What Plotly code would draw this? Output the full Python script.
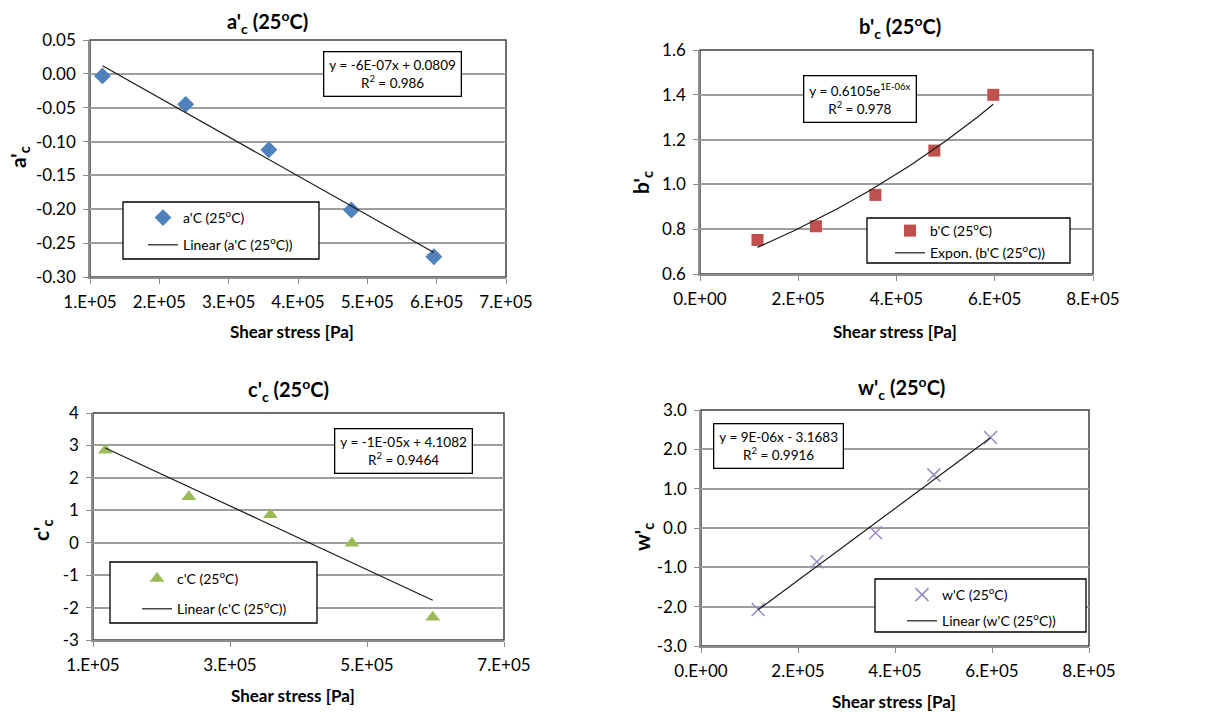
import numpy as np
import plotly.graph_objects as go

W, H = 1223, 712

# ---------------- data ----------------
shear_a = [1.18e5, 2.38e5, 3.58e5, 4.77e5, 5.96e5]
a_c = [-0.003, -0.045, -0.112, -0.201, -0.270]

shear_b = [1.17e5, 2.36e5, 3.57e5, 4.77e5, 5.97e5]
b_c = [0.752, 0.813, 0.953, 1.151, 1.400]

shear_c = [1.18e5, 2.40e5, 3.59e5, 4.78e5, 5.96e5]
c_c = [2.85, 1.42, 0.86, -0.02, -2.30]

shear_w = [1.18e5, 2.39e5, 3.60e5, 4.80e5, 5.97e5]
w_c = [-2.07, -0.86, -0.12, 1.35, 2.30]

xt_a_vals = [1e5, 2e5, 3e5, 4e5, 5e5, 6e5, 7e5]
xt_a_text = ["1.E+05", "2.E+05", "3.E+05", "4.E+05", "5.E+05", "6.E+05", "7.E+05"]
yt_a_vals = [0.05, 0.0, -0.05, -0.10, -0.15, -0.20, -0.25, -0.30]
yt_a_text = ["0.05", "0.00", "-0.05", "-0.10", "-0.15", "-0.20", "-0.25", "-0.30"]

xt_b_vals = [0, 2e5, 4e5, 6e5, 8e5]
xt_b_text = ["0.E+00", "2.E+05", "4.E+05", "6.E+05", "8.E+05"]
yt_b_vals = [0.6, 0.8, 1.0, 1.2, 1.4, 1.6]
yt_b_text = ["0.6", "0.8", "1.0", "1.2", "1.4", "1.6"]

xt_c_vals = [1e5, 3e5, 5e5, 7e5]
xt_c_text = ["1.E+05", "3.E+05", "5.E+05", "7.E+05"]
yt_c_vals = [4, 3, 2, 1, 0, -1, -2, -3]
yt_c_text = ["4", "3", "2", "1", "0", "-1", "-2", "-3"]

xt_w_vals = [0, 2e5, 4e5, 6e5, 8e5]
xt_w_text = ["0.E+00", "2.E+05", "4.E+05", "6.E+05", "8.E+05"]
yt_w_vals = [3, 2, 1, 0, -1, -2, -3]
yt_w_text = ["3.0", "2.0", "1.0", "0.0", "-1.0", "-2.0", "-3.0"]

eq_a = "y = -6E-07x + 0.0809<br>R<sup>2</sup> = 0.986"
eq_b = "y = 0.6105e<sup>1E-06x</sup><br>R<sup>2</sup> = 0.978"
eq_c = "y = -1E-05x + 4.1082<br>R<sup>2</sup> = 0.9464"
eq_w = "y = 9E-06x - 3.1683<br>R<sup>2</sup> = 0.9916"

FONT = "Lato, 'Open Sans', sans-serif"
GRID = "#9e9e9e"
AXIS = "#8c8c8c"
BORDER = "#404040"

def px_x(p):
    return p / W

def px_y(p):
    return 1 - p / H

fig = go.Figure()

# trend lines computed from data
def lin_fit(x, y):
    k, b0 = np.polyfit(np.array(x), np.array(y), 1)
    xs = np.array([min(x), max(x)])
    return xs, k * xs + b0

def exp_fit(x, y):
    k, b0 = np.polyfit(np.array(x), np.log(np.array(y)), 1)
    xs = np.linspace(min(x), max(x), 60)
    return xs, np.exp(b0) * np.exp(k * xs)

panels = [
    dict(x=shear_a, y=a_c, name="a'C (25<sup>o</sup>C)", tname="Linear (a'C (25<sup>o</sup>C))",
         sym="diamond", col="#4F81BD", fit=lin_fit, xa="x", ya="y", leg="legend", size=13),
    dict(x=shear_b, y=b_c, name="b'C (25<sup>o</sup>C)", tname="Expon. (b'C (25<sup>o</sup>C))",
         sym="square", col="#C0504D", fit=exp_fit, xa="x2", ya="y2", leg="legend2", size=12),
    dict(x=shear_c, y=c_c, name="c'C (25<sup>o</sup>C)", tname="Linear (c'C (25<sup>o</sup>C))",
         sym="triangle-up", col="#9BBB59", fit=lin_fit, xa="x3", ya="y3", leg="legend3", size=13),
    dict(x=shear_w, y=w_c, name="w'C (25<sup>o</sup>C)", tname="Linear (w'C (25<sup>o</sup>C))",
         sym="x-thin", col="#9A8AC6", fit=lin_fit, xa="x4", ya="y4", leg="legend4", size=13),
]

for i, p in enumerate(panels):
    if p["sym"] == "x-thin":
        marker = dict(symbol="x-thin", size=p["size"], line=dict(color=p["col"], width=1.5), color=p["col"])
    else:
        marker = dict(symbol=p["sym"], size=p["size"], color=p["col"], line=dict(width=0))
    fig.add_trace(go.Scatter(x=p["x"], y=p["y"], mode="markers", name=p["name"],
                             marker=marker, xaxis=p["xa"], yaxis=p["ya"], legend=p["leg"],
                             legendgroup=f"m{i}", cliponaxis=False))
    fx, fy = p["fit"](p["x"], p["y"])
    fig.add_trace(go.Scatter(x=fx, y=fy, mode="lines", name=p["tname"],
                             line=dict(color="#1a1a1a", width=1.2), xaxis=p["xa"], yaxis=p["ya"],
                             legend=p["leg"], legendgroup=f"t{i}"))

# plot area rectangles (pixel)
areas = {
    "1": (90, 506, 40, 277),
    "2": (700, 1093, 50, 274),
    "3": (93, 504, 413, 640),
    "4": (701, 1089, 410, 646),
}
ranges = {
    "1": ([1e5, 7e5], [-0.30, 0.05], xt_a_vals, xt_a_text, yt_a_vals, yt_a_text),
    "2": ([0, 8e5], [0.6, 1.6], xt_b_vals, xt_b_text, yt_b_vals, yt_b_text),
    "3": ([1e5, 7e5], [-3, 4], xt_c_vals, xt_c_text, yt_c_vals, yt_c_text),
    "4": ([0, 8e5], [-3, 3], xt_w_vals, xt_w_text, yt_w_vals, yt_w_text),
}

layout = dict(width=W, height=H, margin=dict(l=0, r=0, t=0, b=0, pad=0, autoexpand=False),
              template="none",
              paper_bgcolor="white", plot_bgcolor="white",
              font=dict(family=FONT, color="#000000", size=15), showlegend=True)

shapes = []
for k, (x0, x1, y0, y1) in areas.items():
    xr, yr, xv, xtx, yv, ytx = ranges[k]
    suf = "" if k == "1" else k
    layout["xaxis" + suf] = dict(domain=[px_x(x0), px_x(x1)], range=xr, tickvals=xv, ticktext=xtx,
                                 showgrid=False, zeroline=False, showline=True, linecolor=AXIS,
                                 linewidth=1.5, ticks="outside", ticklen=5, tickcolor=AXIS,
                                 tickfont=dict(size=17), anchor="y" + suf, fixedrange=True,
                                 automargin=False, ticklabelstandoff=4)
    layout["yaxis" + suf] = dict(domain=[px_y(y1), px_y(y0)], range=yr, tickvals=yv, ticktext=ytx,
                                 showgrid=True, gridcolor=GRID, gridwidth=1.5, zeroline=False,
                                 showline=True, linecolor=AXIS, linewidth=1.5, ticks="outside",
                                 ticklen=5, tickcolor=AXIS, tickfont=dict(size=17),
                                 anchor="x" + suf, fixedrange=True, automargin=False,
                                 ticklabelstandoff=4)
    shapes.append(dict(type="rect", xref="paper", yref="paper", x0=px_x(x0), x1=px_x(x1),
                       y0=px_y(y1), y1=px_y(y0), line=dict(color=BORDER, width=1.5), layer="below"))

# legend frames (pixel boxes) and legends placed inside
leg_boxes = [(123, 319, 202, 259), (867, 1070, 218, 263), (110, 317, 562, 623), (875, 1086, 579, 632)]
for (x0, x1, y0, y1) in leg_boxes:
    shapes.append(dict(type="rect", xref="paper", yref="paper", x0=px_x(x0), x1=px_x(x1),
                       y0=px_y(y1), y1=px_y(y0), line=dict(color="#000000", width=1.3),
                       fillcolor="white", layer="above"))
layout["shapes"] = shapes

def leg(xl, yt, gap):
    return dict(x=px_x(xl), y=px_y(yt), xanchor="left", yanchor="top", bgcolor="rgba(0,0,0,0)",
                borderwidth=0, font=dict(size=14),
                traceorder="grouped", tracegroupgap=gap, itemwidth=30)

layout["legend"] = leg(143, 202, 6)
layout["legend2"] = leg(890, 215, 1)
layout["legend3"] = leg(137, 563, 9)
layout["legend4"] = leg(902, 579, 5)

ann = []
def text(x, y, t, size, bold=False, angle=0):
    ann.append(dict(x=px_x(x), y=px_y(y), xref="paper", yref="paper", text=("<b>" + t + "</b>") if bold else t,
                    showarrow=False, xanchor="center", yanchor="middle", textangle=angle,
                    font=dict(size=size, family=FONT, color="black")))

# titles
text(267, 22, "a'<sub>c</sub> (25<sup>o</sup>C)", 20, True)
text(900, 27, "b'<sub>c</sub> (25<sup>o</sup>C)", 20, True)
text(288, 390, "c'<sub>c</sub> (25<sup>o</sup>C)", 20, True)
text(901, 388, "w'<sub>c</sub> (25<sup>o</sup>C)", 20, True)
# x titles
text(292, 331, "Shear stress [Pa]", 17, True)
text(895, 331, "Shear stress [Pa]", 17, True)
text(293, 695, "Shear stress [Pa]", 17, True)
text(894, 701, "Shear stress [Pa]", 17, True)
# y titles
text(19, 157, "a'<sub>c</sub>", 21, True, -90)
text(642, 183, "b'<sub>c</sub>", 21, True, -90)
text(42, 530, "c'<sub>c</sub>", 21, True, -90)
text(643, 537, "w'<sub>c</sub>", 21, True, -90)

# equation boxes
def eqbox(xc, yc, t):
    ann.append(dict(x=px_x(xc), y=px_y(yc), xref="paper", yref="paper", text=t, showarrow=False,
                    xanchor="center", yanchor="middle", align="center", bgcolor="white",
                    bordercolor="#000000", borderwidth=1.3, borderpad=5,
                    font=dict(size=13.5, family=FONT, color="black")))

eqbox(392, 74, eq_a)
eqbox(860, 99, eq_b)
eqbox(403, 451, eq_c)
eqbox(778, 446, eq_w)

layout["annotations"] = ann
fig.update_layout(**layout)
fig.write_html("out.html")
